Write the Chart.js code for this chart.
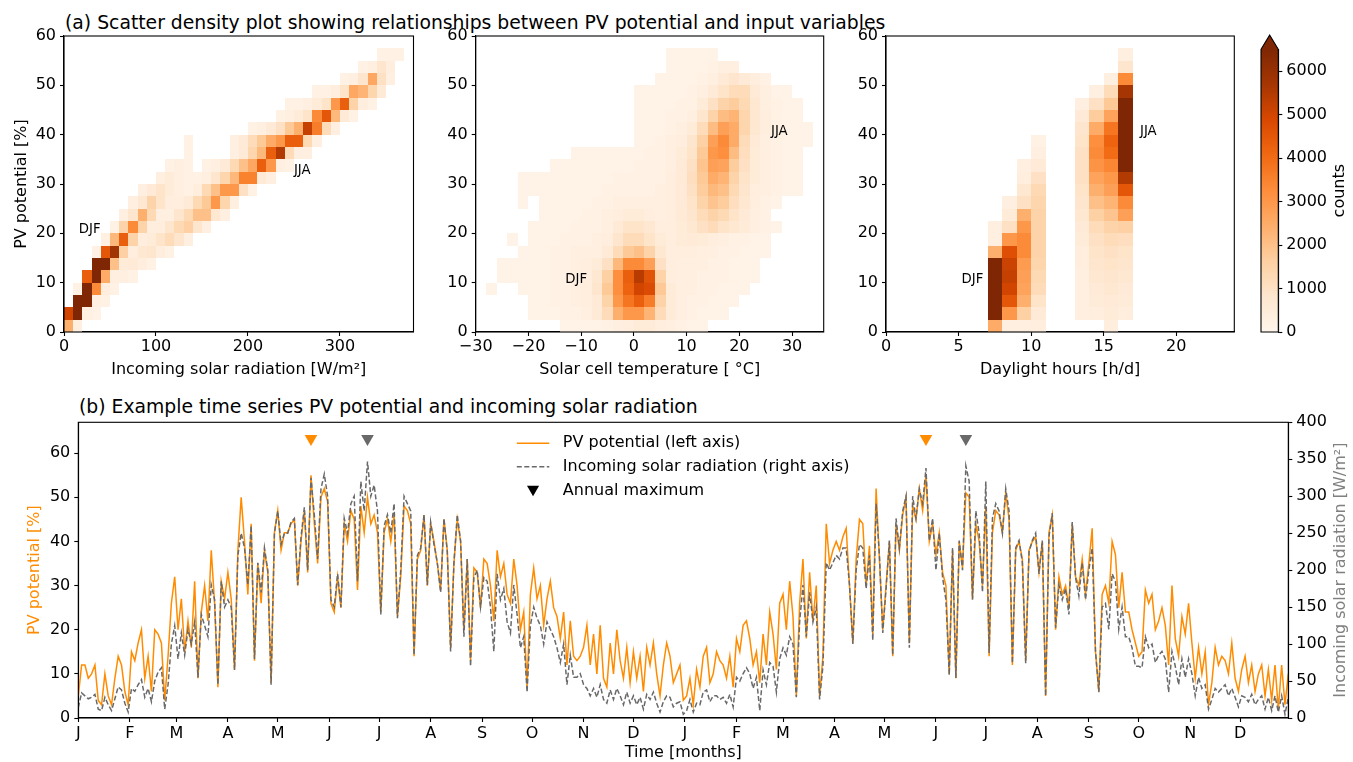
<!DOCTYPE html>
<html>
<head>
<meta charset="utf-8">
<title>PV potential</title>
<script src="https://cdn.jsdelivr.net/npm/chart.js@4.4.1/dist/chart.umd.min.js"></script>
<style>
  body { margin: 0; background: #fff; font-family: "DejaVu Sans", sans-serif; }
  #page { position: relative; width: 1353px; height: 762px; overflow: hidden; }
  .panel { position: absolute; }
  .suptitle { position: absolute; font-size: 18.8px; line-height: 1; white-space: nowrap; color: #000; }
</style>
</head>
<body>
<div id="page">
  <div class="suptitle" style="left:65px; top:13.5px">(a) Scatter density plot showing relationships between PV potential and input variables</div>
  <div class="panel" style="left:0; top:22px; width:430px; height:368px"><canvas id="radChart"></canvas></div>
  <div class="panel" style="left:430px; top:22px; width:420px; height:368px"><canvas id="tempChart"></canvas></div>
  <div class="panel" style="left:850px; top:22px; width:400px; height:368px"><canvas id="dayChart"></canvas></div>
  <div class="panel" style="left:1250px; top:22px; width:103px; height:368px"><canvas id="cbar"></canvas></div>
  <div class="suptitle" style="left:79px; top:397.5px">(b) Example time series PV potential and incoming solar radiation</div>
  <div class="panel" style="left:0; top:395px; width:1353px; height:367px"><canvas id="series"></canvas></div>
</div>
<script>
// ---- (a) 2-D histograms: counts in hundreds -------------------------------
// one row per 2.5 % PV bin from 0 upward; first entry = index of first x bin, then consecutive bins
const PV_BIN = 2.5;
const CMAX = 6500;
const cbarTicks = [0, 1000, 2000, 3000, 4000, 5000, 6000];

const radBinStart = 0, radBinWidth = 10;
const radTicks = [0, 100, 200, 300];
const radCounts = [
  [0, 24, 3],
  [0, 50, 68, 2.5, 1.5],
  [1, 68, 68, 2.5, 2],
  [1, 2, 68, 33, 4, 2],
  [2, 43, 68, 25, 3, 3, 2],
  [3, 68, 68, 20, 5, 6, 4, 2],
  [3, 2, 45, 58, 16, 4, 7, 8, 4, 2],
  [4, 2.5, 22, 43, 15, 4, 5, 9, 12, 8, 3],
  [5, 2, 15, 33, 15, 4, 4, 8, 13, 16, 8, 3],
  [6, 3, 8, 24, 13, 3, 3, 8, 13, 20, 20, 7, 3],
  [7, 3, 7, 15, 9, 4, 4, 6, 13, 18, 30, 14, 3],
  [8, 3, 6, 9, 5, 3, 2, 4, 13, 20, 30, 30, 10, 2],
  [10, 3, 5, 3, 2, 2, 3, 8, 14, 22, 35, 35, 6, 3],
  [11, 2, 3, 2, 0, 2, 3, 6, 13, 20, 26, 43, 30, 3, 2],
  [13, 2, 0, 0, 0, 0, 3, 6, 14, 22, 43, 55, 12, 3, 3],
  [13, 2, 0, 0, 0, 0, 3, 6, 12, 18, 25, 30, 43, 43, 13, 3],
  [20, 2, 3, 6, 10, 18, 24, 52, 36, 12, 3],
  [23, 2, 3, 5, 9, 33, 45, 22, 6, 2],
  [24, 2, 2, 3, 5, 9, 30, 43, 15, 4, 2],
  [27, 2, 2, 4, 9, 26, 23, 14, 6],
  [30, 2, 3, 8, 26, 10, 3],
  [32, 2, 3, 8, 4],
  [34, 2, 2, 2]
];
const radNotes = [['DJF', 16, 20], ['JJA', 250, 32]];

const tempBinStart = -30, tempBinWidth = 2;
const tempTicks = [-30, -20, -10, 0, 10, 20, 30];
const tempCounts = [
  [8, 1, 1, 1, 1, 2, 3, 4, 5, 5, 4, 3, 2, 1, 1],
  [5, 1, 1, 1, 2, 2, 3, 6, 12, 24, 30, 30, 23, 12, 5, 3, 2, 1, 1, 1],
  [5, 1, 1, 2, 2, 3, 4, 6, 15, 30, 38, 43, 36, 15, 5, 3, 2, 2, 1, 1, 1],
  [1, 1, 0, 0, 1, 1, 1, 2, 2, 3, 4, 8, 18, 32, 42, 50, 48, 18, 5, 3, 3, 2, 2, 1, 1, 1],
  [2, 1, 1, 1, 1, 1, 2, 2, 3, 4, 7, 16, 32, 43, 54, 46, 15, 4, 3, 3, 2, 2, 2, 1, 1, 1],
  [2, 1, 1, 1, 1, 1, 2, 2, 3, 4, 5, 10, 22, 33, 33, 28, 10, 4, 3, 3, 3, 2, 2, 1, 1, 1],
  [4, 1, 1, 1, 2, 2, 3, 3, 3, 6, 12, 18, 20, 15, 7, 4, 4, 4, 3, 3, 2, 2, 1, 1, 1],
  [3, 1, 0, 1, 1, 1, 2, 2, 2, 3, 4, 8, 12, 12, 9, 5, 4, 5, 6, 5, 4, 3, 2, 2, 1, 1],
  [5, 1, 1, 1, 1, 2, 2, 2, 3, 6, 9, 9, 7, 4, 4, 5, 7, 10, 12, 9, 7, 5, 3, 2, 1],
  [6, 1, 1, 1, 1, 2, 2, 3, 4, 5, 5, 4, 3, 4, 6, 8, 12, 15, 13, 9, 6, 3, 2],
  [4, 1, 0, 1, 1, 1, 1, 1, 2, 2, 3, 3, 3, 3, 3, 4, 6, 9, 15, 19, 17, 11, 7, 4, 2, 1],
  [4, 1, 1, 1, 1, 1, 1, 1, 1, 2, 2, 2, 2, 2, 3, 4, 6, 10, 17, 22, 20, 13, 8, 4, 3, 2, 1, 1],
  [4, 1, 1, 1, 1, 1, 1, 1, 1, 1, 2, 2, 2, 2, 2, 4, 6, 11, 18, 25, 23, 15, 9, 5, 3, 2, 1, 1],
  [7, 1, 1, 1, 1, 1, 1, 1, 1, 2, 2, 2, 3, 6, 10, 19, 28, 27, 17, 10, 5, 3, 2, 1, 1],
  [9, 1, 1, 1, 1, 1, 1, 1, 2, 2, 3, 5, 9, 18, 30, 32, 21, 11, 5, 3, 2, 1, 1],
  [15, 1, 1, 2, 3, 4, 8, 16, 28, 33, 25, 12, 6, 3, 2, 1, 1, 1],
  [15, 1, 1, 1, 2, 3, 5, 12, 21, 28, 25, 14, 7, 4, 2, 1, 1, 1],
  [15, 1, 1, 1, 2, 2, 3, 8, 15, 21, 23, 14, 7, 4, 2, 1, 1],
  [15, 1, 1, 1, 1, 2, 2, 5, 10, 15, 17, 13, 7, 3, 2, 1, 1],
  [15, 1, 1, 1, 1, 1, 2, 3, 6, 9, 12, 12, 6, 3, 1, 1],
  [17, 1, 1, 1, 1, 2, 3, 6, 8, 6, 4, 2],
  [18, 1, 1, 1, 1, 2, 3, 3],
  [18, 1, 1, 1, 1, 1]
];
const tempNotes = [['DJF', -13, 10], ['JJA', 26, 40]];

const dayBinStart = 0, dayBinWidth = 1;
const dayTicks = [0, 5, 10, 15, 20];
const dayCounts = [
  [7, 25, 3, 3, 4, 0, 0, 0, 0, 4],
  [7, 68, 30, 16, 6, 0, 0, 3, 4, 5, 4],
  [7, 68, 45, 24, 9, 0, 0, 3, 5, 6, 5],
  [7, 68, 50, 27, 12, 0, 0, 3, 6, 7, 6],
  [7, 68, 52, 28, 13, 0, 0, 3, 7, 8, 7],
  [7, 68, 51, 29, 14, 0, 0, 4, 8, 9, 8],
  [7, 24, 47, 33, 15, 0, 0, 4, 9, 10, 9],
  [7, 3, 30, 33, 15, 0, 0, 5, 10, 12, 11],
  [7, 3, 10, 30, 15, 0, 0, 6, 12, 15, 16],
  [8, 5, 24, 15, 0, 0, 7, 16, 19, 28],
  [8, 3, 10, 14, 0, 0, 8, 20, 23, 33],
  [9, 7, 13, 0, 0, 9, 24, 28, 45],
  [9, 4, 10, 0, 0, 10, 27, 30, 55],
  [9, 3, 6, 0, 0, 10, 31, 34, 68],
  [10, 3, 0, 0, 10, 33, 40, 68],
  [10, 2, 0, 0, 9, 32, 42, 68],
  [13, 8, 25, 38, 68],
  [13, 6, 17, 27, 68],
  [13, 3, 10, 18, 68],
  [14, 3, 12, 57],
  [15, 3, 33],
  [16, 8],
  [16, 3]
];
const dayNotes = [['DJF', 5.2, 10], ['JJA', 17.5, 40]];
const pvTicksA = [0, 10, 20, 30, 40, 50, 60];

// ---- (b) time series, one reading every second day over two years ---------
const DAY_STEP = 2;
const monthStarts = [0, 31, 59, 90, 120, 151, 181, 212, 243, 273, 304, 334,
                     365, 396, 424, 455, 485, 516, 546, 577, 608, 638, 669, 699];
const monthLabels = ['J', 'F', 'M', 'A', 'M', 'J', 'J', 'A', 'S', 'O', 'N', 'D',
                     'J', 'F', 'M', 'A', 'M', 'J', 'J', 'A', 'S', 'O', 'N', 'D'];
const pvTicks = [0, 10, 20, 30, 40, 50, 60];
const radAxisTicks = [0, 50, 100, 150, 200, 250, 300, 350, 400];

const pvSeries = [
  5, 12, 12, 9, 10, 12, 4, 3, 10, 5, 3, 9, 14, 12, 6, 3,
  15, 13, 17, 20, 9, 14, 6, 20, 19, 17, 4, 14, 26, 32,
  20, 27, 15, 22, 16, 31, 9, 24, 30, 22, 38, 26, 7, 31, 27,
  33, 27, 11, 38, 50, 40, 28, 44, 13, 35, 26, 38, 33, 8, 42,
  47, 38, 42, 42, 44, 45, 30, 40, 47, 33, 55, 44, 35, 50, 52, 49,
  26, 24, 32, 25, 44, 40, 47, 45, 29, 48, 42, 50, 44, 46, 42,
  24, 42, 45, 40, 46, 23, 32, 48, 47, 44, 14, 36, 38, 46, 30,
  44, 40, 35, 29, 45, 38, 16, 35, 45, 40, 20, 36, 13, 34, 33, 25,
  36, 35, 30, 22, 38, 32, 35, 28, 26, 36, 30, 20, 24, 7, 28,
  34, 27, 30, 21, 27, 31, 25, 23, 18, 24, 12, 22, 14, 13, 14,
  16, 21, 12, 19, 10, 21, 9, 7, 17, 10, 20, 13, 9, 16, 8,
  15, 9, 14, 6, 16, 12, 17, 10, 5, 12, 17, 14, 8, 10, 12, 4,
  5, 9, 3, 11, 7, 14, 16, 8, 10, 15, 13, 12, 9, 14, 7,
  18, 15, 21, 22, 18, 12, 15, 8, 19, 12, 24, 19, 11, 26,
  28, 20, 31, 23, 5, 26, 36, 18, 33, 22, 30, 5, 14, 44, 35, 38,
  40, 38, 41, 43, 30, 17, 36, 45, 44, 30, 39, 19, 52, 36, 20,
  30, 40, 14, 44, 38, 46, 50, 17, 48, 45, 52, 47, 55, 40, 44,
  37, 42, 33, 30, 10, 38, 9, 40, 34, 51, 50, 27, 44, 40, 30,
  48, 14, 42, 47, 46, 42, 51, 45, 12, 38, 40, 36, 13, 38, 40, 41,
  33, 40, 5, 42, 46, 20, 32, 28, 30, 25, 44, 32, 30, 36, 28,
  35, 43, 15, 6, 28, 30, 26, 40, 37, 25, 33, 24, 24, 20, 17,
  14, 15, 29, 26, 28, 20, 22, 25, 21, 12, 30, 18, 14, 23, 19, 26,
  17, 9, 16, 10, 15, 3, 8, 16, 12, 14, 13, 10, 17, 9, 6,
  11, 14, 8, 12, 6, 10, 12, 5, 11, 4, 12, 2, 12, 3, 10
];
const radSeries = [
  14, 34, 30, 26, 28, 32, 12, 10, 28, 18, 10, 26, 42, 38, 20, 8,
  40, 36, 45, 52, 28, 40, 22, 50, 62, 68, 12, 45, 100, 125,
  80, 115, 85, 120, 100, 130, 55, 140, 125, 110, 180, 160, 45, 185, 150,
  160, 150, 65, 220, 250, 230, 180, 260, 80, 210, 170, 230, 200, 45, 250,
  280, 235, 250, 250, 265, 270, 180, 245, 285, 200, 325, 275, 215, 310, 330, 300,
  160, 150, 195, 150, 270, 250, 290, 300, 185, 320, 280, 347, 300, 315, 280,
  140, 260, 275, 250, 290, 135, 200, 300, 290, 280, 85, 220, 230, 275, 180,
  265, 235, 210, 170, 270, 225, 90, 210, 275, 240, 110, 215, 70, 190, 200, 150,
  190, 185, 150, 90, 195, 160, 175, 130, 115, 180, 140, 95, 110, 35, 125,
  150, 135, 125, 100, 130, 120, 110, 95, 75, 100, 45, 85, 55, 55, 60,
  45, 40, 30, 40, 28, 45, 25, 20, 38, 25, 40, 30, 18, 35, 20,
  30, 18, 28, 12, 32, 25, 35, 20, 8, 22, 30, 28, 15, 20, 22, 5,
  10, 25, 8, 20, 18, 35, 38, 22, 30, 30, 25, 28, 20, 32, 15,
  55, 50, 60, 68, 60, 40, 55, 10, 65, 45, 75, 70, 35, 80,
  95, 85, 110, 100, 28, 130, 180, 110, 170, 130, 150, 25, 70, 210, 200, 210,
  220, 215, 230, 230, 180, 100, 200, 235, 230, 175, 220, 105, 290, 220, 115,
  175, 240, 85, 270, 230, 280, 300, 95, 300, 270, 310, 290, 338, 240, 270,
  200, 250, 190, 160, 58, 230, 54, 240, 200, 341, 320, 160, 280, 250, 170,
  320, 88, 270, 290, 280, 250, 310, 280, 74, 230, 240, 210, 74, 225, 240, 250,
  195, 240, 30, 245, 277, 122, 180, 160, 175, 140, 265, 190, 165, 210, 160,
  200, 230, 90, 35, 150, 155, 120, 195, 185, 120, 150, 110, 110, 95, 70,
  70, 68, 110, 95, 100, 75, 85, 90, 80, 35, 90, 70, 45, 80, 55, 80,
  60, 30, 55, 40, 45, 12, 25, 40, 35, 40, 45, 30, 40, 28, 15,
  30, 28, 22, 32, 18, 25, 30, 12, 28, 10, 30, 8, 30, 5, 28
];
const MARK_LEVEL = 63.3;   // PV-axis height of the annual-maximum markers

// ---- styling ---------------------------------------------------------------
const FONT = '"DejaVu Sans", sans-serif';
const FS = 16;
const PV_COLOR = '#ff8c00';
const RAD_COLOR = '#696969';
const ORANGES = [[255, 245, 235], [254, 230, 206], [253, 208, 162], [253, 174, 107], [253, 141, 60],
                 [241, 105, 19], [217, 72, 1], [166, 54, 3], [127, 39, 4]];

Chart.defaults.font.family = FONT;
Chart.defaults.font.size = FS;
Chart.defaults.color = '#000';
Chart.defaults.animation = false;

function oranges(t) {
  t = Math.max(0, Math.min(1, t));
  const p = t * (ORANGES.length - 1);
  const i = Math.min(Math.floor(p), ORANGES.length - 2), f = p - i;
  const a = ORANGES[i], b = ORANGES[i + 1];
  return 'rgb(' + [0, 1, 2].map(k => Math.round(a[k] + (b[k] - a[k]) * f)).join(',') + ')';
}

function numLabel(v) {
  return String(v).replace('-', '\u2212');
}

function axis(o) {
  return {
    type: 'linear',
    display: o.display !== false,
    position: o.position,
    min: o.min,
    max: o.max,
    afterFit: s => { if (s.isHorizontal()) s.height = o.size; else s.width = o.size; },
    afterBuildTicks: s => { s.ticks = o.ticks.map(v => ({ value: v })); },
    grid: { drawOnChartArea: false, drawTicks: true, tickLength: 4, tickWidth: 1.1, tickColor: '#000' },
    border: { display: true, color: '#000', width: 1.1 },
    ticks: {
      color: '#000', padding: o.pad, autoSkip: false, maxRotation: 0, minRotation: 0,
      callback: o.fmt || (v => numLabel(v))
    },
    title: o.title
      ? { display: true, text: o.title, color: o.titleColor || '#000', font: { size: FS }, padding: o.titlePad }
      : { display: false }
  };
}

const frame = {
  id: 'frame',
  afterDraw(chart) {
    const { ctx, chartArea: a } = chart;
    ctx.save();
    ctx.strokeStyle = '#000';
    ctx.lineWidth = 1.1;
    ctx.strokeRect(a.left, a.top, a.width, a.height);
    ctx.restore();
  }
};

function heatLayer(rows, binStart, binWidth) {
  return {
    id: 'heatLayer',
    beforeDatasetsDraw(chart) {
      const { ctx, chartArea: a, scales: { x, y } } = chart;
      ctx.save();
      ctx.beginPath();
      ctx.rect(a.left, a.top, a.width, a.height);
      ctx.clip();
      rows.forEach((row, r) => {
        const yb = Math.round(y.getPixelForValue(r * PV_BIN));
        const yt = Math.round(y.getPixelForValue((r + 1) * PV_BIN));
        row.slice(1).forEach((c, k) => {
          if (!c) return;
          const lo = binStart + (row[0] + k) * binWidth;
          const x0 = Math.round(x.getPixelForValue(lo));
          const x1 = Math.round(x.getPixelForValue(lo + binWidth));
          ctx.fillStyle = oranges(c * 100 / CMAX);
          ctx.fillRect(x0, yt, x1 - x0, yb - yt);
        });
      });
      ctx.restore();
    }
  };
}

function noteLayer(list) {
  return {
    id: 'noteLayer',
    afterDatasetsDraw(chart) {
      const { ctx, scales: { x, y } } = chart;
      ctx.save();
      ctx.font = '13.3px ' + FONT;
      ctx.fillStyle = '#000';
      ctx.textBaseline = 'alphabetic';
      list.forEach(([t, vx, vy]) => ctx.fillText(t, x.getPixelForValue(vx), y.getPixelForValue(vy)));
      ctx.restore();
    }
  };
}

function sideLabel(text, offset, color) {
  return {
    id: 'sideLabel',
    afterDraw(chart) {
      const { ctx, chartArea: a } = chart;
      ctx.save();
      ctx.translate(a.right + offset, (a.top + a.bottom) / 2);
      ctx.rotate(-Math.PI / 2);
      ctx.font = FS + 'px ' + FONT;
      ctx.fillStyle = color;
      ctx.textAlign = 'center';
      ctx.textBaseline = 'middle';
      ctx.fillText(text, 0, 0);
      ctx.restore();
    }
  };
}

function heatChart(id, rows, binStart, binWidth, xMin, xMax, xTicks, xTitle, yWidth, padRight, notes, yTitle) {
  return new Chart(document.getElementById(id), {
    type: 'scatter',
    data: { datasets: [] },
    options: {
      responsive: true,
      maintainAspectRatio: false,
      layout: { padding: { top: 14, right: padRight, bottom: 0, left: 0 } },
      plugins: { legend: { display: false }, tooltip: { enabled: false } },
      scales: {
        x: axis({ min: xMin, max: xMax, ticks: xTicks, size: 58, pad: 1.6, title: xTitle,
                  titlePad: { top: 0, bottom: 10.4 } }),
        y: axis({ min: 0, max: 60, ticks: pvTicksA, size: yWidth, pad: 4, title: yTitle,
                  titlePad: { top: 11.9, bottom: 0 } })
      }
    },
    plugins: [heatLayer(rows, binStart, binWidth), noteLayer(notes), frame]
  });
}

heatChart('radChart', radCounts, radBinStart, radBinWidth, 0, 380, radTicks,
  'Incoming solar radiation [W/m\u00b2]', 64, 16.5, radNotes, 'PV potential [%]');
heatChart('tempChart', tempCounts, tempBinStart, tempBinWidth, -30, 36, tempTicks,
  'Solar cell temperature [ \u00b0C]', 45.7, 26.3, tempNotes, null);
heatChart('dayChart', dayCounts, dayBinStart, dayBinWidth, 0, 24, dayTicks,
  'Daylight hours [h/d]', 36, 15.7, dayNotes, null);

// ---- colour bar --------------------------------------------------------------
const cbarLayer = {
  id: 'cbarLayer',
  beforeDatasetsDraw(chart) {
    const { ctx, chartArea: a, scales: { y } } = chart;
    ctx.save();
    for (let py = Math.floor(a.top); py < a.bottom; py++) {
      ctx.fillStyle = oranges(y.getValueForPixel(py + 0.5) / CMAX);
      ctx.fillRect(a.left, py, a.width, 1);
    }
    const tip = a.top - (a.bottom - a.top) * 0.05;
    ctx.beginPath();
    ctx.moveTo(a.left, a.top);
    ctx.lineTo((a.left + a.right) / 2, tip);
    ctx.lineTo(a.right, a.top);
    ctx.closePath();
    ctx.fillStyle = oranges(1);
    ctx.fill();
    ctx.beginPath();
    ctx.moveTo(a.left, a.bottom);
    ctx.lineTo(a.left, a.top);
    ctx.lineTo((a.left + a.right) / 2, tip);
    ctx.lineTo(a.right, a.top);
    ctx.lineTo(a.right, a.bottom);
    ctx.closePath();
    ctx.strokeStyle = '#000';
    ctx.lineWidth = 1.1;
    ctx.stroke();
    ctx.restore();
  }
};

new Chart(document.getElementById('cbar'), {
  type: 'scatter',
  data: { datasets: [] },
  options: {
    responsive: true,
    maintainAspectRatio: false,
    layout: { padding: { top: 27.3, right: 0, bottom: 58, left: 11 } },
    plugins: { legend: { display: false }, tooltip: { enabled: false } },
    scales: {
      x: { display: false, min: 0, max: 1 },
      y: axis({ position: 'right', min: 0, max: CMAX, ticks: cbarTicks, size: 74.7, pad: 4 })
    }
  },
  plugins: [cbarLayer, sideLabel('counts', 61.7, '#000')]
});

// ---- (b) time series -----------------------------------------------------------
function toPoints(series) {
  return series.map((v, i) => ({ x: i * DAY_STEP, y: v }));
}

function annualMax(series) {
  const yearBreak = monthStarts[12];
  const bounds = [[0, yearBreak], [yearBreak, Infinity]];
  return bounds.map(([d0, d1]) => {
    let best = -1;
    series.forEach((v, i) => {
      const d = i * DAY_STEP;
      if (d >= d0 && d < d1 && (best < 0 || v > series[best])) best = i;
    });
    return { x: best * DAY_STEP, y: MARK_LEVEL };
  });
}

function markerPath(ctx, cx, cy, r) {
  // downward triangle inscribed in a circle of radius r
  ctx.beginPath();
  ctx.moveTo(cx, cy + r);
  ctx.lineTo(cx - r * Math.sqrt(3) / 2, cy - r / 2);
  ctx.lineTo(cx + r * Math.sqrt(3) / 2, cy - r / 2);
  ctx.closePath();
}

const seriesLegend = {
  id: 'seriesLegend',
  afterDraw(chart) {
    const { ctx, chartArea: a } = chart;
    const x0 = a.left + 438.5, x1 = a.left + 471, tx = a.left + 484.5;
    const rowsY = [a.top + 21, a.top + 44.4, a.top + 68.4];
    const entries = chart.data.datasets.filter(d => d.legendText);
    ctx.save();
    ctx.font = FS + 'px ' + FONT;
    ctx.textBaseline = 'middle';
    entries.forEach((d, i) => {
      const ry = rowsY[i];
      if (d.legendMarker) {
        ctx.fillStyle = '#000';
        markerPath(ctx, (x0 + x1) / 2, ry - 1.5, 7);
        ctx.fill();
      } else {
        ctx.strokeStyle = d.borderColor;
        ctx.lineWidth = d.borderWidth;
        ctx.setLineDash(d.borderDash || []);
        ctx.beginPath();
        ctx.moveTo(x0, ry);
        ctx.lineTo(x1, ry);
        ctx.stroke();
        ctx.setLineDash([]);
      }
      ctx.fillStyle = '#000';
      ctx.fillText(d.legendText, tx, ry);
    });
    ctx.restore();
  }
};

new Chart(document.getElementById('series'), {
  type: 'line',
  data: {
    datasets: [
      {
        legendText: 'PV potential (left axis)',
        data: toPoints(pvSeries), yAxisID: 'y', order: 3,
        borderColor: PV_COLOR, borderWidth: 1.5, pointRadius: 0, tension: 0
      },
      {
        legendText: 'Incoming solar radiation (right axis)',
        data: toPoints(radSeries), yAxisID: 'y2', order: 2,
        borderColor: RAD_COLOR, borderWidth: 1.5, borderDash: [5, 2.5], pointRadius: 0, tension: 0
      },
      {
        legendText: 'Annual maximum', legendMarker: true,
        type: 'scatter', data: annualMax(pvSeries), yAxisID: 'y', order: 1,
        pointStyle: 'triangle', rotation: 180, pointRadius: 7.3,
        backgroundColor: PV_COLOR, borderWidth: 0
      },
      {
        type: 'scatter', data: annualMax(radSeries), yAxisID: 'y', order: 1,
        pointStyle: 'triangle', rotation: 180, pointRadius: 7.3,
        backgroundColor: RAD_COLOR, borderWidth: 0
      }
    ]
  },
  options: {
    responsive: true,
    maintainAspectRatio: false,
    layout: { padding: { top: 27.3, right: 0, bottom: 0, left: 0 } },
    plugins: { legend: { display: false }, tooltip: { enabled: false } },
    scales: {
      x: axis({ min: 0, max: 728, ticks: monthStarts, size: 44, pad: 2.4,
                fmt: (v, i) => monthLabels[i], title: 'Time [months]', titlePad: { top: 0, bottom: 0 } }),
      y: axis({ position: 'left', min: 0, max: 67, ticks: pvTicks, size: 78.3, pad: 4,
                title: 'PV potential [%]', titleColor: PV_COLOR, titlePad: { top: 25.4, bottom: 0 } }),
      y2: axis({ position: 'right', min: 0, max: 400, ticks: radAxisTicks, size: 64.7, pad: 4 })
    }
  },
  plugins: [frame, seriesLegend, sideLabel('Incoming solar radiation [W/m\u00b2]', 52.7, '#808080')]
});
</script>
</body>
</html>
